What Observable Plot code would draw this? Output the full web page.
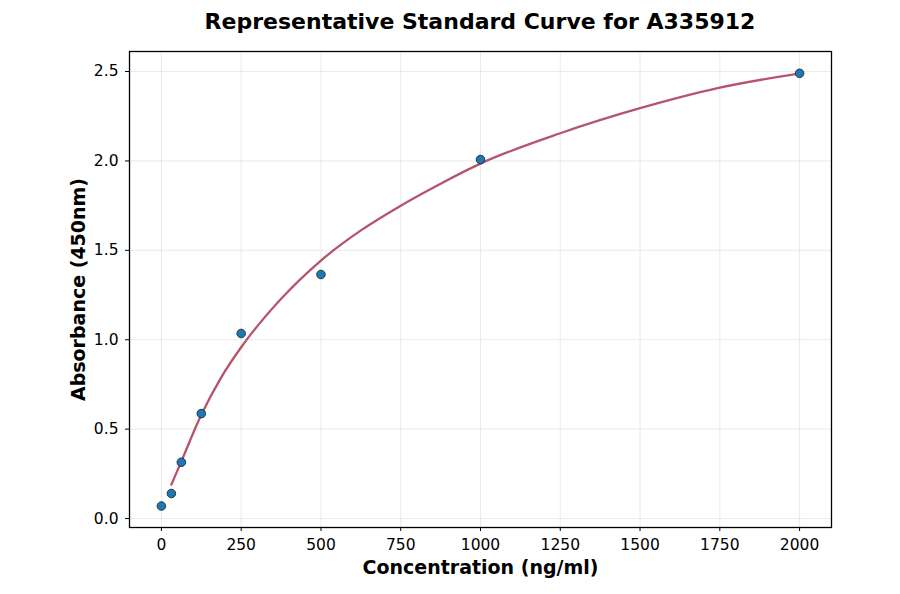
<!DOCTYPE html>
<html>
<head>
<meta charset="utf-8">
<script src="https://cdn.jsdelivr.net/npm/d3@7"></script>
<script src="https://cdn.jsdelivr.net/npm/@observablehq/plot@0.6"></script>
<style>
  body { margin: 0; background: #fff; font-family: "DejaVu Sans", sans-serif; }
  #title { height: 40px; margin-left: 129px; width: 702px; text-align: center;
           font-weight: bold; font-size: 22px; line-height: 44px; color: #000; white-space: nowrap; }
  #chart g[aria-label="x-axis tick label"] text,
  #chart g[aria-label="y-axis tick label"] text { font-size: 15.5px; fill: #000; }
</style>
</head>
<body>
<div id="title">Representative Standard Curve for A335912</div>
<div id="chart"></div>
<script>
// Measured standards
const conc = [0, 31.25, 62.5, 125, 250, 500, 1000, 2000];
const absorbance = [0.07, 0.14, 0.315, 0.587, 1.035, 1.365, 2.008, 2.49];

// Fitted curve
const curveX = [31.25, 62.5, 125, 187.5, 250, 373, 500, 624, 750, 875, 1000, 1250, 1500, 1750, 2000];
const curveY = [0.19, 0.32, 0.58, 0.79, 0.958, 1.225, 1.443, 1.61, 1.75, 1.873, 1.985, 2.155, 2.295, 2.41, 2.49];

const xTicks = [0, 250, 500, 750, 1000, 1250, 1500, 1750, 2000];
const yTicks = [0.0, 0.5, 1.0, 1.5, 2.0, 2.5];

const points = conc.map((c, i) => ({x: c, y: absorbance[i]}));
const curve = curveX.map((c, i) => ({x: c, y: curveY[i]}));

const chart = Plot.plot({
  width: 900,
  height: 554,
  marginLeft: 129,
  marginRight: 69,
  marginTop: 11,
  marginBottom: 67,
  style: {fontFamily: "DejaVu Sans, sans-serif", fontSize: "15px", color: "#000", background: "#fff"},
  x: {domain: [-100, 2100], ticks: xTicks, tickFormat: d => String(d), label: null},
  y: {domain: [-0.05, 2.612], ticks: yTicks, tickFormat: d => d.toFixed(1), label: null},
  marks: [
    Plot.gridX(xTicks, {stroke: "#d9d9d9", strokeOpacity: 0.7, strokeWidth: 0.8}),
    Plot.gridY(yTicks, {stroke: "#d9d9d9", strokeOpacity: 0.7, strokeWidth: 0.8}),
    Plot.axisX({ticks: xTicks, tickSize: 4, tickPadding: 7, tickFormat: d => String(d), label: null, fontSize: 15}),
    Plot.axisY({ticks: yTicks, tickSize: 4, tickPadding: 7, tickFormat: d => d.toFixed(1), label: null, fontSize: 15}),
    Plot.line(curve, {x: "x", y: "y", stroke: "#b5546b", strokeWidth: 2.3, curve: "monotone-x"}),
    Plot.dot(points, {x: "x", y: "y", r: 4.3, fill: "#1f77b4", stroke: "#1b2a3a", strokeWidth: 0.9}),
    Plot.frame({stroke: "#000", strokeWidth: 1.3}),
    Plot.text(["Concentration (ng/ml)"], {frameAnchor: "bottom", dy: 40, lineAnchor: "middle", textAnchor: "middle", fontWeight: "bold", fontSize: 19, fill: "#000"}),
    Plot.text(["Absorbance (450nm)"], {frameAnchor: "left", dx: -51, rotate: -90, lineAnchor: "middle", textAnchor: "middle", fontWeight: "bold", fontSize: 19, fill: "#000"})
  ]
});
document.getElementById("chart").appendChild(chart);
</script>
</body>
</html>
